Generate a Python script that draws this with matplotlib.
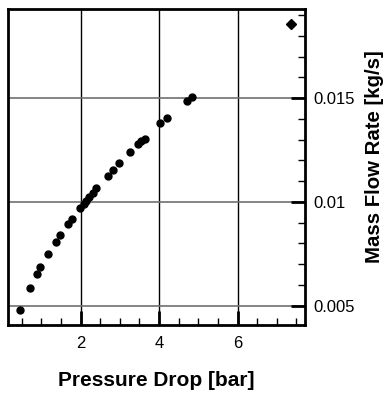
import matplotlib
matplotlib.use("Agg")
import matplotlib.pyplot as plt
from matplotlib.ticker import MultipleLocator

plt.rcParams['font.family'] = ['Liberation Sans', 'DejaVu Sans']

# measured points (pressure drop [bar], mass flow [kg/s])
dp = [0.45, 0.70, 0.88, 0.97, 1.18, 1.37, 1.48, 1.68, 1.78, 1.99, 2.08, 2.14,
      2.21, 2.32, 2.39, 2.71, 2.83, 2.97, 3.27, 3.47, 3.55, 3.63, 4.03, 4.20,
      4.70, 4.83]
mdot = [0.00479, 0.00587, 0.00651, 0.00685, 0.00751, 0.00809, 0.00839, 0.00895,
        0.00920, 0.00971, 0.00990, 0.01006, 0.01023, 0.01045, 0.01066, 0.01127,
        0.01154, 0.01187, 0.01243, 0.01280, 0.01292, 0.01304, 0.01379, 0.01406,
        0.01488, 0.01508]
# single outlier point
dp_d = [7.37]
mdot_d = [0.0186]

fig = plt.figure(figsize=(3.85, 3.96), dpi=100)
ax = fig.add_axes([0.0208, 0.1793, 0.7714, 0.7980])

ax.plot(dp, mdot, 'o', color='black', markersize=5, zorder=3)
ax.plot(dp_d, mdot_d, 'D', color='black', markersize=5, zorder=3)

ax.set_xlim(0.15, 7.72)
ax.set_ylim(0.00407, 0.0193)

ax.xaxis.set_major_locator(MultipleLocator(2))
ax.xaxis.set_minor_locator(MultipleLocator(0.5))
ax.set_yticks([0.005, 0.01, 0.015])
ax.set_yticklabels(['0.005', '0.01', '0.015'])
ax.yaxis.set_minor_locator(MultipleLocator(0.001))

ax.yaxis.tick_right()
ax.yaxis.set_label_position('right')
ax.tick_params(axis='x', which='both', direction='in', top=False, labelsize=12, pad=8)
ax.tick_params(axis='y', which='both', direction='in', left=False, labelsize=12, pad=6)
ax.tick_params(which='major', length=10, width=2, color='black')
ax.tick_params(which='minor', length=5, width=1, color='black')

for v in [2, 4, 6]:
    ax.axvline(v, color='black', linewidth=1, zorder=1)
for v in [0.005, 0.01, 0.015]:
    ax.axhline(v, color='#707070', linewidth=1.2, zorder=1)

for s in ax.spines.values():
    s.set_linewidth(2)

ax.set_xlabel('Pressure Drop [bar]', fontsize=15, fontweight='bold', labelpad=14)
ax.set_ylabel('Mass Flow Rate [kg/s]', fontsize=14.7, fontweight='bold', rotation=90)
ax.yaxis.set_label_coords(1.203, 0.533)

fig.savefig('out.png', dpi=100)
